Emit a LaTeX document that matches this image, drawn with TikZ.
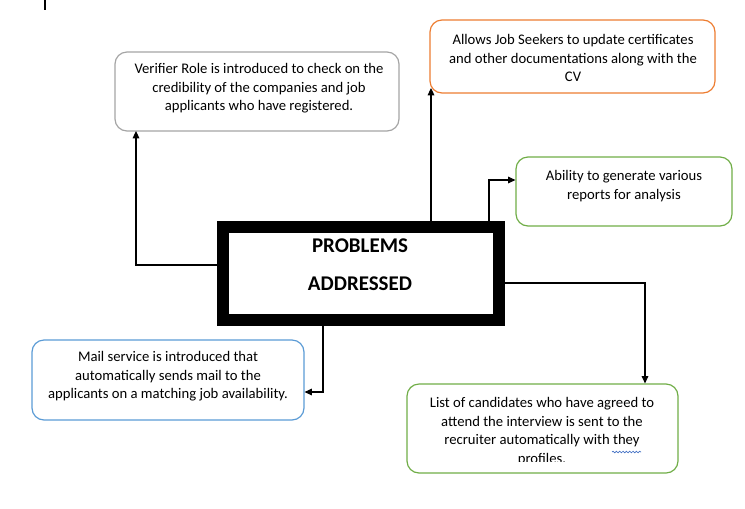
\documentclass[tikz,border=0pt]{standalone}
\usepackage{fontspec}
\setmainfont{Carlito}
\usetikzlibrary{arrows.meta,decorations.pathmorphing}
\definecolor{bxgray}{HTML}{A5A5A5}
\definecolor{bxorange}{HTML}{ED7D31}
\definecolor{bxgreen}{HTML}{70AD47}
\definecolor{bxblue}{HTML}{5B9BD5}
\definecolor{wavy}{HTML}{4472C4}
\begin{document}
\begin{tikzpicture}[x=0.75pt,y=-0.75pt,
  box/.style={draw=#1, line width=0.9pt, rounded corners=9pt, inner sep=0pt},
  txt/.style={align=center, inner sep=0pt, font=\fontsize{11}{13.9}\selectfont},
  bold/.style={inner sep=0pt, font=\fontsize{15.7}{18}\selectfont\bfseries},
  conn/.style={line width=0.8pt, draw=black},
  arr/.style={conn, -{Triangle[length=5.5pt,width=5pt]}}]
\useasboundingbox (0,0) rectangle (745,508);
% small mark top left
\coordinate (m1) at (45,0);
\coordinate (m2) at (45,10);
\draw[line width=0.8pt] (m1) -- (m2);

% boxes
\node[box=bxgray, minimum width=213pt, minimum height=59.25pt] (ver) at (257,91.5) {};
\node[txt] (vert) at (259,88.5) {Verifier Role is introduced to check on the\\credibility of the companies and job\\applicants who have registered.};

\node[box=bxorange, minimum width=213.75pt, minimum height=54.75pt] (ora) at (572.5,56.5) {};
\node[txt] (orat) at (573,58) {Allows Job Seekers to update certificates\\and other documentations along with the\\CV};

\node[box=bxgreen, minimum width=162pt, minimum height=51.75pt] (rep) at (624,191.5) {};
\node[txt] (rept) at (624,186) {Ability to generate various\\reports for analysis};

\node[box=bxblue, minimum width=204pt, minimum height=60pt] (mail) at (168,380) {};
\node[txt] (mailt) at (168,376.5) {Mail service is introduced that\\automatically sends mail to the\\applicants on a matching job availability.};

\node[box=bxgreen, minimum width=203.25pt, minimum height=66.75pt] (list) at (542.5,428.5) {};
\begin{scope}
\clip (407,384) rectangle (678,461);
\node[txt] (listt) at (542,431.5) {List of candidates who have agreed to\\attend the interview is sent to the\\recruiter automatically with they\\profiles.};
\coordinate (w1) at (612,452);
\coordinate (w2) at (641,452);
\draw[wavy, line width=0.5pt, decorate, decoration={snake, amplitude=0.6pt, segment length=2.5pt}] (w1) -- (w2);
\end{scope}

% central box
\node[draw=black, line width=9pt, minimum width=207pt, minimum height=69.75pt, inner sep=0pt] (prob) at (361,273.5) {};
\node[bold] (p1) at (360,246) {PROBLEMS};
\node[bold] (p2) at (360,284) {ADDRESSED};

% connectors
\draw[arr] (prob.west |- 0,265) -| (136,131);
\draw[arr] (prob.north -| 431,0) -- (431,88);
\draw[arr] (prob.north -| 489,0) |- (rep.west |- 0,180);
\draw[arr] (prob.east |- 0,283) -| (list.north -| 645,0);
\draw[arr] (prob.south -| 323,0) |- (mail.east |- 0,392);
\end{tikzpicture}
\end{document}
